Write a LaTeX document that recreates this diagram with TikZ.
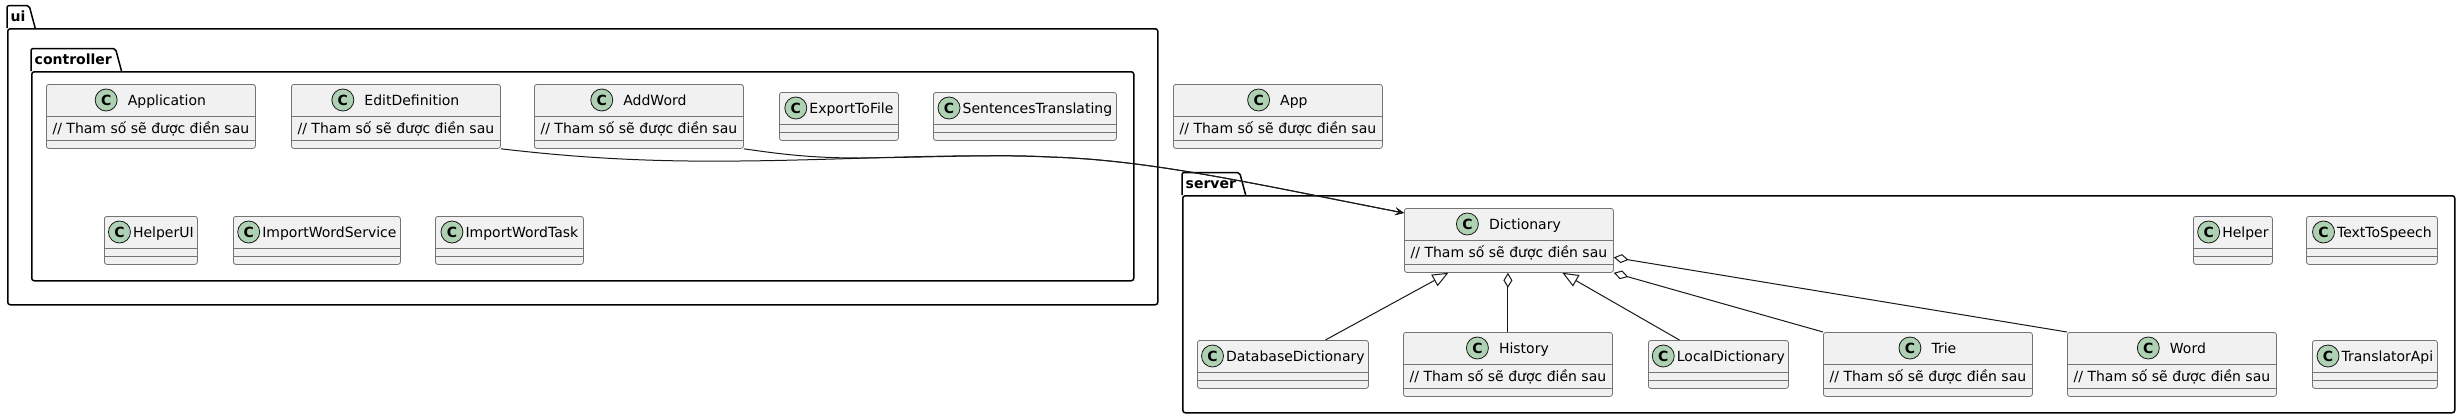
\documentclass[tikz,border=0pt]{standalone}
\usepackage{fontspec}
\setmainfont{DejaVu Sans}
\usetikzlibrary{positioning,arrows.meta}

\definecolor{classfill}{HTML}{F1F1F1}
\definecolor{classline}{HTML}{181818}
\definecolor{iconfill}{HTML}{ADD1B2}

% class with one attribute row
\newcommand{\fullclass}[6]{%
  \node[class box, minimum width=#4pt, minimum height=64pt] (#1) at (#2,#3) {};
  \draw[class sep] ([yshift=-32pt]#1.north west) -- ([yshift=-32pt]#1.north east)
                   ([yshift=-56pt]#1.north west) -- ([yshift=-56pt]#1.north east);
  \node[class name, label={[class icon, label distance=10pt]left:C}] (#1-name)
        at ([xshift=16pt,yshift=-16pt]#1.north) {#5};
  \node[class name] (#1-attr) at ([yshift=-44pt]#1.north) {#6};
}
% class with empty rows
\newcommand{\plainclass}[5]{%
  \node[class box, minimum width=#4pt, minimum height=48pt] (#1) at (#2,#3) {};
  \draw[class sep] ([yshift=-32pt]#1.north west) -- ([yshift=-32pt]#1.north east)
                   ([yshift=-40pt]#1.north west) -- ([yshift=-40pt]#1.north east);
  \node[class name, label={[class icon, label distance=2pt]left:C}] (#1-name)
        at ([xshift=12.5pt,yshift=-16pt]#1.north) {#5};
}

\begin{document}
\begin{tikzpicture}[x=1pt, y=-1pt,
    class box/.style={draw=classline!60, line width=.8pt, fill=classfill,
                      rounded corners=2.5pt, anchor=north west, inner sep=0pt},
    class sep/.style={draw=classline!60, line width=.8pt},
    class name/.style={inner sep=0pt, text height=10pt, text depth=0pt,
                       font=\fontsize{14pt}{17pt}\selectfont},
    class icon/.style={circle, draw=classline, line width=.8pt, fill=iconfill,
                       minimum size=22pt, inner sep=0pt,
                       font=\fontsize{14pt}{17pt}\selectfont\bfseries},
    pkg body/.style={draw, line width=1.5pt, rounded corners=2.5pt,
                     anchor=north west, inner sep=0pt},
    pkg tab/.style={anchor=south west, inner xsep=3.5pt, inner ysep=0pt,
                    minimum height=22pt, text height=10pt, text depth=0pt,
                    font=\fontsize{14pt}{17pt}\selectfont\bfseries},
    pkg line/.style={draw, line width=1.5pt, rounded corners=2pt},
    link/.style={draw=classline, line width=1pt},
    uses/.style={link, -{Stealth[length=9pt, width=8pt, inset=4pt]}},
    extends/.style={link, -{Triangle[open, length=16pt, width=13pt]}},
    aggregates/.style={link, -{Diamond[open, length=15pt, width=9pt]}}
    ]
  \useasboundingbox[fill=white] (0,0) rectangle (2460,418);

  % packages
  \node[pkg body, minimum width=1150pt, minimum height=276pt] (ui) at (7,28) {};
  \node[pkg tab] (ui-tab) at (ui.north west) {ui};
  \draw[pkg line] (ui-tab.south west) |- (ui-tab.north east) -- ([xshift=6pt]ui-tab.south east);

  \node[pkg body, minimum width=1102pt, minimum height=209pt] (controller) at (31,71) {};
  \node[pkg tab] (controller-tab) at (controller.north west) {controller};
  \draw[pkg line] (controller-tab.south west) |- (controller-tab.north east) -- ([xshift=6pt]controller-tab.south east);

  \node[pkg body, minimum width=1272pt, minimum height=217pt] (server) at (1182,195) {};
  \node[pkg tab] (server-tab) at (server.north west) {server};
  \draw[pkg line] (server-tab.south west) |- (server-tab.north east) -- ([xshift=6pt]server-tab.south east);

  % ui.controller
  \fullclass{application}{46}{84}{209}{Application}{// Tham số sẽ được điền sau}
  \fullclass{editdef}{291}{84}{209}{EditDefinition}{// Tham số sẽ được điền sau}
  \fullclass{addword}{534}{84}{209}{AddWord}{// Tham số sẽ được điền sau}
  \plainclass{exporttofile}{779}{92}{119}{ExportToFile}
  \plainclass{sentences}{933}{92}{183}{SentencesTranslating}
  \plainclass{helperui}{104}{216}{93}{HelperUI}
  \plainclass{importservice}{233}{216}{167}{ImportWordService}
  \plainclass{importtask}{435}{216}{148}{ImportWordTask}

  \fullclass{app}{1173}{84}{209}{App}{// Tham số sẽ được điền sau}

  % server
  \fullclass{dictionary}{1404}{208}{209}{Dictionary}{// Tham số sẽ được điền sau}
  \plainclass{helper}{2193}{216}{79}{Helper}
  \plainclass{texttospeech}{2306}{216}{131}{TextToSpeech}
  \plainclass{dbdict}{1197}{340}{171}{DatabaseDictionary}
  \fullclass{history}{1403}{332}{209}{History}{// Tham số sẽ được điền sau}
  \plainclass{localdict}{1648}{340}{140}{LocalDictionary}
  \fullclass{trie}{1823}{332}{209}{Trie}{// Tham số sẽ được điền sau}
  \fullclass{word}{2067}{332}{209}{Word}{// Tham số sẽ được điền sau}
  \plainclass{translatorapi}{2312}{340}{125}{TranslatorApi}

  % links
  \draw[uses] (editdef.south east) .. controls (580,158) and (650,162) .. (740,161)
        .. controls (850,160) and (950,153) .. (1050,157)
        .. controls (1150,160) and (1250,183) .. ([yshift=-5pt]dictionary.north west);
  \draw[uses] (addword.south east) .. controls (780,154) and (810,158) .. (860,158)
        .. controls (950,157) and (1000,154) .. (1050,157)
        .. controls (1150,160) and (1250,183) .. ([yshift=-5pt]dictionary.north west);
  \path ([xshift=42.5pt]dbdict.north) edge[extends] ([xshift=-60.5pt]dictionary.south)
        (history.north) edge[aggregates] (history.north |- dictionary.south)
        ([xshift=-39pt]localdict.north) edge[extends] ([xshift=53.5pt]dictionary.south)
        (trie.north west) edge[aggregates] (dictionary.south east)
        (word.north west) edge[aggregates] ([yshift=-17pt]dictionary.east);
\end{tikzpicture}
\end{document}
